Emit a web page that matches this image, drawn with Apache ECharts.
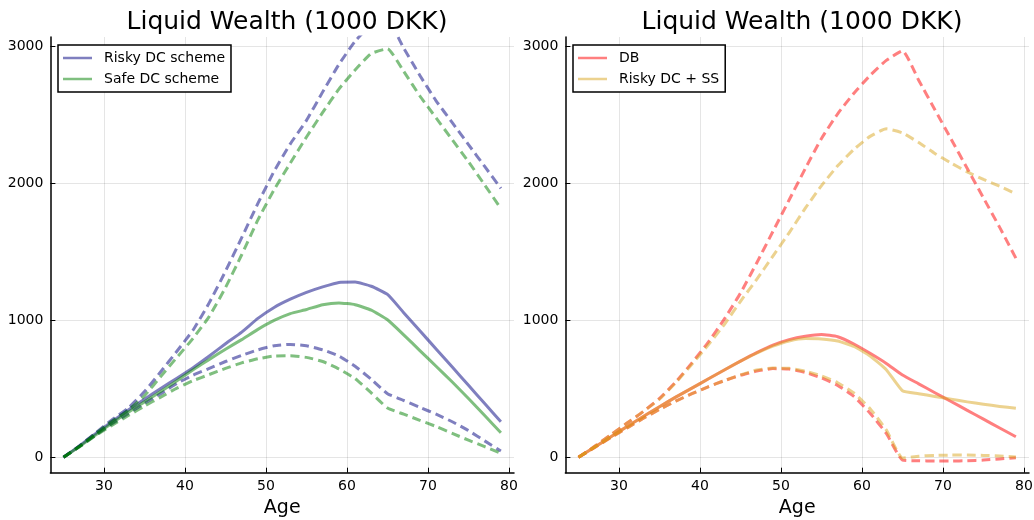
<!DOCTYPE html>
<html>
<head>
<meta charset="utf-8">
<script src="https://cdn.jsdelivr.net/npm/echarts@6/dist/echarts.min.js"></script>
<style>html,body{margin:0;padding:0;background:#fff}#c{width:1034px;height:520px}</style>
</head>
<body>
<div id="c"></div>
<script>
const ages = [25,27,29,31,33,35,37,39,41,43,45,47,49,51,53,55,57,59,61,63,65,67,69,71,73,75,77,79];
const xTicks = [30,40,50,60,70,80];
const yTicks = [0,1000,2000,3000];
const panelTitle = 'Liquid Wealth (1000 DKK)';
const xName = 'Age';

// Left panel: solid = median, dashed = upper / lower bands
const riskyMed  = [0,85,175,262,345,425,503,578,655,740,830,915,1015,1095,1155,1205,1245,1278,1280,1250,1190,1057,924,792,659,526,393,260];
const riskyHigh = [0,85,180,275,360,480,625,775,930,1130,1360,1605,1855,2090,2290,2462,2670,2870,3040,3160,3190,2990,2790,2605,2445,2285,2125,1965];
const riskyLow  = [0,80,165,245,320,395,465,540,600,650,700,745,785,815,825,815,785,740,665,570,465,415,365,315,260,195,120,46];
const safeMed   = [0,80,165,250,330,405,480,560,640,715,790,860,935,1000,1050,1080,1115,1128,1115,1075,1005,895,780,665,550,430,305,180];
const safeHigh  = [0,82,175,265,345,450,590,730,870,1030,1240,1480,1735,1955,2150,2340,2520,2690,2830,2950,2985,2820,2640,2480,2320,2160,1990,1818];
const safeLow   = [0,78,160,235,305,375,440,505,560,605,650,690,720,740,742,730,700,645,575,470,360,315,270,225,175,125,78,29];

// Right panel
const dbMed   = [0,75,150,225,298,370,440,505,572,638,703,765,820,860,885,898,881,828,760,686,601,537,472,408,343,279,214,150];
const dbHigh  = [0,80,165,250,335,430,550,690,840,1010,1200,1420,1650,1880,2110,2330,2510,2660,2790,2900,2970,2755,2540,2325,2110,1895,1680,1455];
const dbLow   = [0,72,145,215,285,350,410,465,515,560,600,630,648,645,620,580,525,445,322,175,-20,-25,-27,-27,-25,-20,-12,-3];
const ssMed   = [0,75,150,225,298,370,440,505,572,638,703,762,812,850,868,865,850,810,740,640,486,465,445,425,405,388,372,358];
const ssHigh  = [0,80,165,250,335,425,545,680,820,970,1140,1300,1470,1640,1820,1985,2130,2250,2345,2400,2370,2300,2220,2150,2085,2030,1980,1925];
const ssLow   = [0,72,145,215,285,350,410,465,515,560,602,638,652,650,630,595,545,470,355,200,-5,8,14,16,16,14,10,3];

const COL = {
  risky: 'rgba(0,0,128,0.5)',
  safe: 'rgba(0,128,0,0.5)',
  db: 'rgba(255,0,0,0.5)',
  ss: 'rgba(218,165,32,0.5)'
};
const FONT = 'DejaVu Sans';

function pts(arr){ return ages.map((a,i)=>[a, arr[i]]); }
function ser(name, arr, color, dashed, idx){
  return {
    name: name, type: 'line', data: pts(arr),
    xAxisIndex: idx, yAxisIndex: idx,
    symbol: 'none', showSymbol: false, silent: true, smooth: 0.15,
    lineStyle: {color: color, width: 3, type: dashed ? [9,5] : 'solid', cap: 'butt', join: 'round'},
    itemStyle: {color: color},
    emphasis: {disabled: true}
  };
}
function xAx(idx){
  return {
    type: 'value', gridIndex: idx, min: 23.38, max: 80.62,
    name: xName, nameLocation: 'middle', nameGap: 25,
    nameTextStyle: {fontFamily: FONT, fontSize: 19, color: '#000'},
    axisLine: {show: true, onZero: false, lineStyle: {color: '#000', width: 1.5}},
    axisTick: {show: true, inside: true, length: 5, customValues: xTicks, lineStyle: {color: '#000', width: 1}},
    axisLabel: {customValues: xTicks, fontFamily: FONT, fontSize: 14, color: '#000', margin: 7},
    splitLine: {show: true, lineStyle: {color: 'rgba(0,0,0,0.1)', width: 1}}
  };
}
function yAx(idx){
  return {
    type: 'value', gridIndex: idx, min: -112.5, max: 3071,
    axisLine: {show: true, onZero: false, lineStyle: {color: '#000', width: 1.5}},
    axisTick: {show: true, inside: true, length: 5, customValues: yTicks, lineStyle: {color: '#000', width: 1}},
    axisLabel: {customValues: yTicks, formatter: v => String(v), fontFamily: FONT, fontSize: 14, color: '#000', margin: 7},
    splitLine: {show: true, lineStyle: {color: 'rgba(0,0,0,0.1)', width: 1}}
  };
}
function leg(names, left){
  return {
    data: names.map(n => ({name: n, icon: 'rect'})), orient: 'vertical', left: left, top: 45,
    itemWidth: 29, itemHeight: 2.5, itemGap: 5,
    padding: [5, 6, 5, 5],
    borderColor: '#000', borderWidth: 1.5, backgroundColor: '#fff',
    textStyle: {fontFamily: FONT, fontSize: 14, color: '#000', padding: [0,0,0,7], lineHeight: 16},
    selectedMode: false
  };
}

const chart = echarts.init(document.getElementById('c'), null, {renderer: 'canvas'});
chart.setOption({
  animation: false,
  backgroundColor: '#fff',
  title: [
    {text: panelTitle, left: 282, top: 5, textAlign: 'center', textStyle: {fontFamily: FONT, fontSize: 25, fontWeight: 'normal', color: '#000'}},
    {text: panelTitle, left: 797, top: 5, textAlign: 'center', textStyle: {fontFamily: FONT, fontSize: 25, fontWeight: 'normal', color: '#000'}}
  ],
  grid: [
    {left: 50.4, top: 37, width: 463.6, height: 435.7, containLabel: false, outerBoundsMode: 'none'},
    {left: 565.4, top: 37, width: 463.6, height: 435.7, containLabel: false, outerBoundsMode: 'none'}
  ],
  xAxis: [xAx(0), xAx(1)],
  yAxis: [yAx(0), yAx(1)],
  legend: [leg(['Risky DC scheme','Safe DC scheme'], 58), leg(['DB','Risky DC + SS'], 573)],
  series: [
    ser('Risky DC scheme', riskyMed, COL.risky, false, 0),
    ser('Risky DC upper', riskyHigh, COL.risky, true, 0),
    ser('Risky DC lower', riskyLow, COL.risky, true, 0),
    ser('Safe DC scheme', safeMed, COL.safe, false, 0),
    ser('Safe DC upper', safeHigh, COL.safe, true, 0),
    ser('Safe DC lower', safeLow, COL.safe, true, 0),
    ser('DB', dbMed, COL.db, false, 1),
    ser('DB upper', dbHigh, COL.db, true, 1),
    ser('DB lower', dbLow, COL.db, true, 1),
    ser('Risky DC + SS', ssMed, COL.ss, false, 1),
    ser('SS upper', ssHigh, COL.ss, true, 1),
    ser('SS lower', ssLow, COL.ss, true, 1)
  ]
});
</script>
</body>
</html>
